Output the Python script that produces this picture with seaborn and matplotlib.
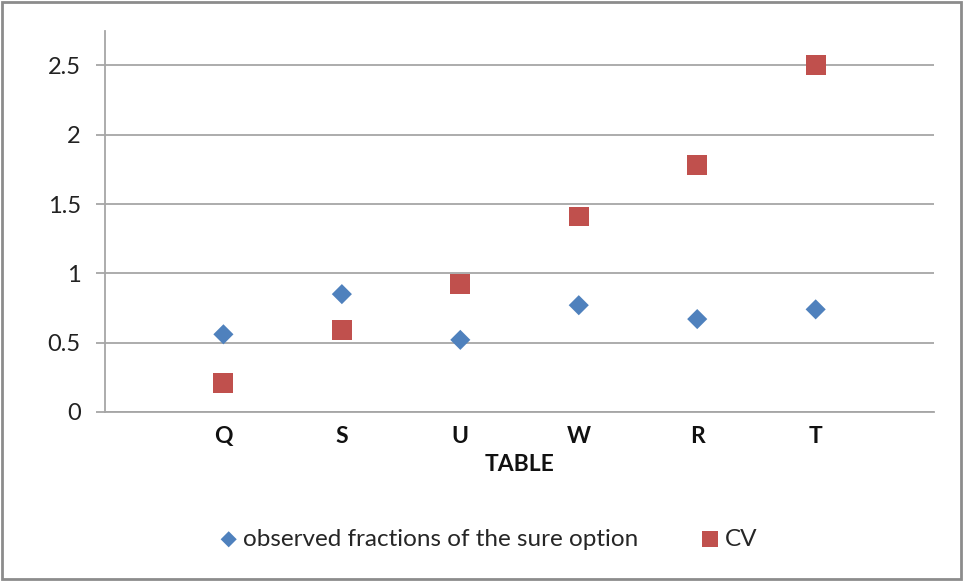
import matplotlib
matplotlib.use("Agg")
import matplotlib.pyplot as plt
import seaborn as sns
import pandas as pd
from matplotlib.patches import Rectangle

# data
tables = ["Q", "S", "U", "W", "R", "T"]
observed = [0.56, 0.85, 0.52, 0.77, 0.67, 0.74]
cv = [0.21, 0.59, 0.92, 1.41, 1.78, 2.50]

blue = "#4F81BD"
red = "#C0504D"
grid_col = "#A6A6A6"

sns.set_theme(style="white")
plt.rcParams["font.family"] = ["Lato", "DejaVu Sans"]

pos = list(range(1, len(tables) + 1))
df = pd.DataFrame({"pos": pos, "table": tables, "observed": observed, "cv": cv})

fig = plt.figure(figsize=(9.63, 5.81), dpi=100)
ax = fig.add_axes([0.109, 0.291, 0.861, 0.656])

sns.scatterplot(data=df, x="pos", y="observed", marker="D", s=105, color=blue,
                edgecolor="none", label="observed fractions of the sure option", ax=ax, zorder=3)
sns.scatterplot(data=df, x="pos", y="cv", marker="s", s=205, color=red,
                edgecolor="none", label="CV", ax=ax, zorder=3)

ax.set_xlim(0, len(tables) + 1)
ax.set_ylim(0, 2.75)
ax.set_yticks([0, 0.5, 1, 1.5, 2, 2.5])
ax.set_yticklabels(["0", "0.5", "1", "1.5", "2", "2.5"])
ax.set_xticks(pos)
ax.set_xticklabels(tables, fontweight="bold")

ax.yaxis.grid(True, color=grid_col, linewidth=1.3)
ax.set_axisbelow(True)
for s in ["top", "right"]:
    ax.spines[s].set_visible(False)
for s in ["left", "bottom"]:
    ax.spines[s].set_color(grid_col)
    ax.spines[s].set_linewidth(1.3)

ax.tick_params(axis="y", length=6.5, width=1.3, color=grid_col, pad=11,
               labelsize=17, labelcolor="#222222", left=True)
ax.tick_params(axis="x", length=0, pad=10, labelsize=16.5, labelcolor="#111111")

ax.set_xlabel("TABLE", fontsize=16.5, fontweight="bold", labelpad=5, color="#111111")
ax.set_ylabel("")

handles, labels = ax.get_legend_handles_labels()
ax.legend_.remove()
fig.legend(handles, labels, loc="center", bbox_to_anchor=(0.505, 0.072), ncol=2,
           frameon=False, fontsize=17.5, columnspacing=2.4, handletextpad=0.05,
           handlelength=1.1, markerscale=0.8)

fig.patches.append(Rectangle((0.002, 0.003), 0.996, 0.994, transform=fig.transFigure,
                             fill=False, edgecolor="#8C8C8C", linewidth=2))

fig.savefig("out.png", dpi=100)
